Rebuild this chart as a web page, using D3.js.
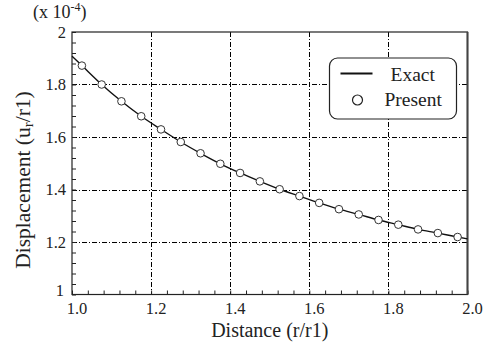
<!DOCTYPE html>
<html>
<head>
<meta charset="utf-8">
<script src="https://cdn.jsdelivr.net/npm/d3@7"></script>
<style>
  body { margin: 0; background: #fff; }
  svg text { font-family: "Liberation Serif", "Times New Roman", Times, serif; }
</style>
</head>
<body>
<div id="chart"></div>
<script>
// Present (circles) - distance r/r1 and displacement (x 1e-4)
const presentR = [1.025, 1.075, 1.125, 1.175, 1.225, 1.275, 1.325, 1.375, 1.425, 1.475,
                  1.525, 1.575, 1.625, 1.675, 1.725, 1.775, 1.825, 1.875, 1.925, 1.975];
const presentU = [1.872, 1.800, 1.736, 1.679, 1.629, 1.581, 1.538, 1.498, 1.463, 1.431,
                  1.401, 1.375, 1.349, 1.325, 1.305, 1.284, 1.266, 1.248, 1.234, 1.219];

// Exact solution (line)
const exactR = [1.0, 1.025, 1.075, 1.125, 1.175, 1.225, 1.275, 1.325, 1.375, 1.425, 1.475,
                1.525, 1.575, 1.625, 1.675, 1.725, 1.775, 1.825, 1.875, 1.925, 1.975, 2.0];
const exactU = [1.908, 1.872, 1.800, 1.736, 1.679, 1.629, 1.581, 1.538, 1.498, 1.463, 1.431,
                1.401, 1.375, 1.349, 1.325, 1.305, 1.284, 1.266, 1.248, 1.234, 1.219, 1.212];

const xMajor = [1.0, 1.2, 1.4, 1.6, 1.8, 2.0];
const xLabels = ["1.0", "1.2", "1.4", "1.6", "1.8", "2.0"];
const yMajor = [1, 1.2, 1.4, 1.6, 1.8, 2];
const yLabels = ["1", "1.2", "1.4", "1.6", "1.8", "2"];
const minorStep = 0.04;

const width = 490, height = 349;
const margin = { top: 32, right: 22.5, bottom: 54.5, left: 72 };
const serif = "Liberation Serif, Times New Roman, serif";

const svg = d3.select("#chart").append("svg")
  .attr("width", width)
  .attr("height", height);

const x = d3.scaleLinear().domain([1, 2]).range([margin.left, width - margin.right]);
const y = d3.scaleLinear().domain([1, 2]).range([height - margin.bottom, margin.top]);

const minorX = d3.range(0, 26).map(i => +(1 + i * minorStep).toFixed(2));
const minorY = d3.range(0, 26).map(i => +(1 + i * minorStep).toFixed(2));

const fmtX = v => { const i = xMajor.findIndex(m => Math.abs(m - v) < 1e-6); return i >= 0 ? xLabels[i] : ""; };
const fmtY = v => { const i = yMajor.findIndex(m => Math.abs(m - v) < 1e-6); return i >= 0 ? yLabels[i] : ""; };

// grid lines (dash-dot)
const grid = svg.append("g").attr("class", "grid")
  .attr("stroke", "#000").attr("stroke-width", 1).attr("stroke-dasharray", "5,2,1,2");
grid.selectAll(".gx").data(xMajor.slice(1, -1)).enter().append("line")
  .attr("x1", d => Math.round(x(d)) + 0.5).attr("x2", d => Math.round(x(d)) + 0.5)
  .attr("y1", y(2)).attr("y2", y(1));
grid.selectAll(".gy").data(yMajor.slice(1, -1)).enter().append("line")
  .attr("y1", d => Math.round(y(d)) + 0.5).attr("y2", d => Math.round(y(d)) + 0.5)
  .attr("x1", x(1)).attr("x2", x(2));

// axes with inward minor ticks
const xAxis = svg.append("g")
  .attr("transform", `translate(0,${y(1)})`)
  .call(d3.axisBottom(x).tickValues(minorX).tickSize(-4).tickPadding(8).tickFormat(fmtX));
const yAxis = svg.append("g")
  .attr("transform", `translate(${x(1)},0)`)
  .call(d3.axisLeft(y).tickValues(minorY).tickSize(-4).tickPadding(6).tickFormat(fmtY));

[xAxis, yAxis].forEach(a => {
  a.attr("font-family", serif);
  a.select(".domain").remove();
  a.selectAll(".tick line").attr("stroke", "#222");
  a.selectAll("text").attr("font-size", "16.5px").attr("fill", "#222");
});
xAxis.selectAll("text").attr("dx", 4.5);
yAxis.selectAll("text").filter(d => d === 1).attr("dx", -2).attr("dy", "0.05em");

// frame
svg.append("rect")
  .attr("x", x(1)).attr("y", y(2))
  .attr("width", x(2) - x(1)).attr("height", y(1) - y(2))
  .attr("fill", "none").attr("stroke", "#222").attr("stroke-width", 1.2);
svg.append("line")
  .attr("x1", x(2)).attr("x2", x(2)).attr("y1", y(2)).attr("y2", y(1))
  .attr("stroke", "#444").attr("stroke-width", 2);

// exact line
const line = d3.line().x((d, i) => x(exactR[i])).y(d => y(d)).curve(d3.curveMonotoneX);
svg.append("path")
  .datum(exactU)
  .attr("d", line)
  .attr("fill", "none").attr("stroke", "#111").attr("stroke-width", 1.4);

// present circles
svg.selectAll(".pt").data(presentU).enter().append("circle")
  .attr("class", "pt")
  .attr("cx", (d, i) => x(presentR[i]))
  .attr("cy", d => y(d))
  .attr("r", 3.8)
  .attr("fill", "#fff").attr("stroke", "#333").attr("stroke-width", 1);

// legend
const lg = svg.append("g").attr("transform", "translate(329.5,58)");
lg.append("rect").attr("width", 127).attr("height", 61).attr("rx", 8)
  .attr("fill", "#fff").attr("stroke", "#222").attr("stroke-width", 1.2);
lg.append("line").attr("x1", 11).attr("x2", 43).attr("y1", 15.5).attr("y2", 15.5)
  .attr("stroke", "#111").attr("stroke-width", 2);
lg.append("text").attr("x", 61).attr("y", 23).attr("font-size", "19.5px").attr("fill", "#222").text("Exact");
lg.append("circle").attr("cx", 28).attr("cy", 42).attr("r", 5)
  .attr("fill", "#fff").attr("stroke", "#222").attr("stroke-width", 1.2);
lg.append("text").attr("x", 55).attr("y", 48).attr("font-size", "19.5px").attr("fill", "#222").text("Present");

// axis titles
svg.append("text")
  .attr("x", (x(1) + x(2)) / 2).attr("y", 337)
  .attr("text-anchor", "middle").attr("font-size", "20px").attr("fill", "#222")
  .text("Distance (r/r1)");

const yt = svg.append("text")
  .attr("transform", "translate(30,180) rotate(-90)")
  .attr("text-anchor", "middle").attr("font-size", "21.5px").attr("fill", "#222");
yt.append("tspan").text("Displacement (u");
yt.append("tspan").attr("font-size", "15px").attr("dy", 3).text("r");
yt.append("tspan").attr("dy", -3).text("/r1)");

// scale factor
const sf = svg.append("text").attr("x", 33).attr("y", 18)
  .attr("font-size", "18px").attr("fill", "#222");
sf.append("tspan").text("(x 10");
sf.append("tspan").attr("font-size", "12px").attr("dy", -7).text("-4");
sf.append("tspan").attr("dy", 7).text(")");
</script>
</body>
</html>
